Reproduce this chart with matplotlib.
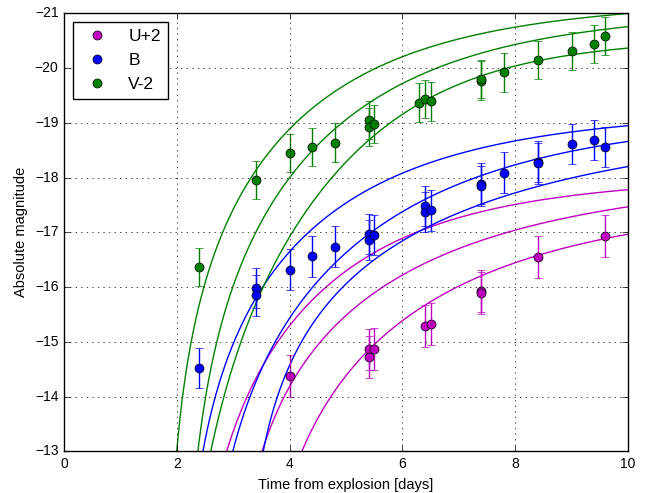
import numpy as np
import matplotlib
matplotlib.use('Agg')
from matplotlib import pyplot as plt

# photometry (absolute mag, already offset)
t_u = [4.0, 5.4, 5.4, 5.5, 6.4, 6.5, 7.4, 7.4, 8.4, 9.6]
m_u = [-14.38, -14.86, -14.72, -14.87, -15.29, -15.33, -15.93, -15.89, -16.55, -16.93]
t_b = [2.4, 3.4, 3.4, 4.0, 4.4, 4.8, 5.4, 5.4, 5.5, 6.4, 6.4, 6.5, 7.4, 7.4, 7.8, 8.4, 8.4, 9.0, 9.4, 9.6]
m_b = [-14.52, -15.98, -15.85, -16.32, -16.56, -16.74, -16.97, -16.86, -16.95, -17.48, -17.37, -17.40,
       -17.89, -17.85, -18.09, -18.29, -18.26, -18.61, -18.69, -18.56]
t_v = [2.4, 3.4, 4.0, 4.4, 4.8, 5.4, 5.4, 5.5, 6.3, 6.4, 6.5, 7.4, 7.4, 7.8, 8.4, 9.0, 9.4, 9.6]
m_v = [-16.37, -17.96, -18.45, -18.56, -18.64, -19.05, -18.92, -18.98, -19.37, -19.44, -19.39,
       -19.77, -19.80, -19.92, -20.15, -20.31, -20.44, -20.59]
err_u, err_b, err_v = 0.38, 0.37, 0.35

# model light curves: m = m_inf + 2.5 log10(1 + ((t - t0)/tau)^-n)
curve_band = ['U', 'U', 'U', 'B', 'B', 'B', 'V', 'V', 'V']
curve_minf = [-18.11, -18.26, -17.78, -19.35, -19.27, -19.33, -21.34, -21.16, -20.61]
curve_t0 = [2.082, 2.850, 3.253, 2.019, 2.309, 3.155, 1.775, 2.047, 1.802]
curve_tau = [5.243, 7.422, 7.097, 5.631, 6.867, 9.569, 5.446, 5.854, 5.599]
curve_n = [2.5, 2.0, 2.2, 2.3, 2.5, 1.8, 2.4, 2.6, 3.6]

colors = {'U': 'm', 'B': 'b', 'V': 'g'}


def model(t, m_inf, t0, tau, n):
    x = np.clip((t - t0) / tau, 1e-9, None)
    return m_inf + 2.5 * np.log10(1 + x ** (-n))


plt.style.use('classic')
plt.rcParams['font.family'] = ['Liberation Sans', 'DejaVu Sans']
plt.rcParams['figure.facecolor'] = 'white'
plt.rcParams['xtick.labelsize'] = 10
plt.rcParams['ytick.labelsize'] = 10

fig = plt.figure(figsize=(6.61, 4.93), dpi=100)
ax = fig.add_axes([0.097, 0.0846, 0.853, 0.8884])

tt = np.linspace(0.01, 10, 2000)
for band, mi, t0, tau, n in zip(curve_band, curve_minf, curve_t0, curve_tau, curve_n):
    ax.plot(tt, model(tt, mi, t0, tau, n), '-', color=colors[band], lw=1)

for t, m, e, band, lab in [(t_u, m_u, err_u, 'U', 'U+2'), (t_b, m_b, err_b, 'B', 'B'), (t_v, m_v, err_v, 'V', 'V-2')]:
    ax.errorbar(t, m, yerr=e, fmt='none', ecolor=colors[band], capsize=3, elinewidth=1)
    ax.plot(t, m, 'o', color=colors[band], mec='k', ms=6.5, label=lab)

ax.set_xlim(0, 10)
ax.set_ylim(-13, -21)
ax.grid(True)
ax.set_xlabel('Time from explosion [days]', fontsize=10.5)
ax.set_ylabel('Absolute magnitude', fontsize=10.5)
ax.legend(loc='upper left', numpoints=1, fontsize=12.5)

fig.savefig('out.png', dpi=100)
